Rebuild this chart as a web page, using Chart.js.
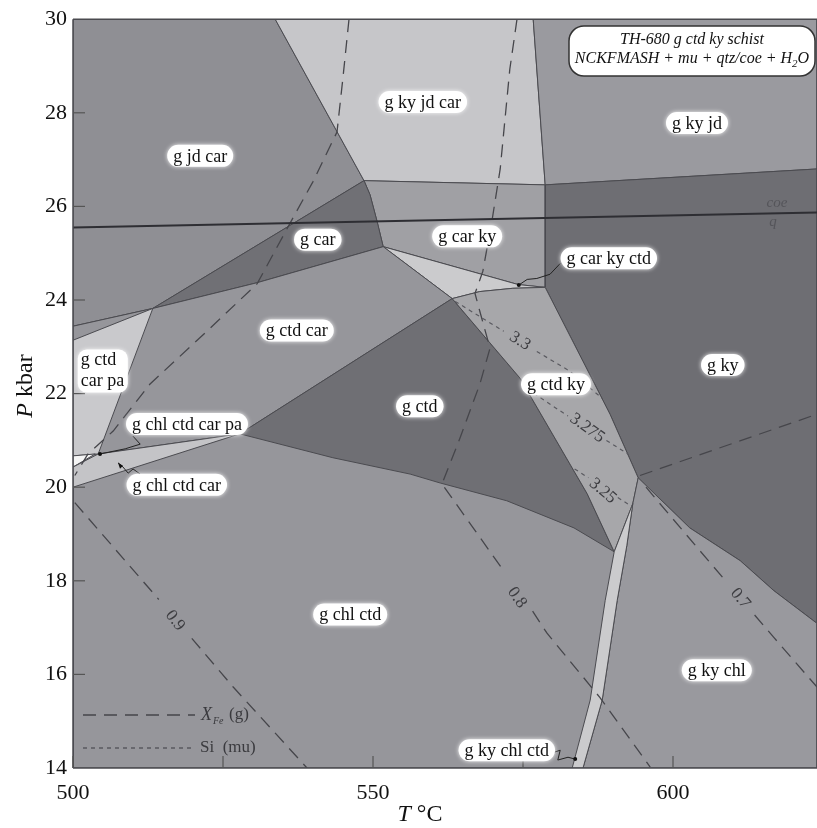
<!DOCTYPE html>
<html>
<head>
<meta charset="utf-8">
<script src="https://cdn.jsdelivr.net/npm/chart.js@4.4.1/dist/chart.umd.min.js"></script>
<style>
html,body{margin:0;padding:0;background:#fff}
</style>
</head>
<body>
<canvas id="chart" width="817" height="828"></canvas>
<script>
// axes
const xTickVals = [500, 525, 550, 575, 600]
const yTickVals = [16, 18, 20, 22, 24, 26, 28]

// fields, points are [T degC, P kbar]
const gChlCtd = [[500,14],[624,14],[624,30],[500,30]]
const gJdCar = [[500,30],[533.7,30],[548.5,26.55],[513.3,23.82],[500,23.44]]
const gKyJdCar = [[533.7,30],[576.7,30],[578.7,26.46],[548.5,26.55]]
const gKyJd = [[576.7,30],[624,30],[624,26.8],[578.7,26.46]]
const gKy = [[578.7,26.46],[624,26.8],[624,17.09],[616.8,17.79],[611.2,18.43],[602.8,19.13],[594.2,20.2],[589.5,21.56],[578.7,24.27]]
const gCarKy = [[548.5,26.55],[578.7,26.46],[578.7,24.27],[574.2,24.33],[551.7,25.14],[550.7,25.67],[549.5,26.25]]
const gCar = [[513.3,23.82],[548.5,26.55],[549.5,26.25],[550.7,25.67],[551.7,25.14],[530.7,24.37]]
const gCarKyCtd = [[551.7,25.14],[574.2,24.33],[578.7,24.27],[573.3,24.25],[567.8,24.18],[563.2,24.03]]
const gCtdCar = [[500,23.44],[513.3,23.82],[530.7,24.37],[551.7,25.14],[563.2,24.03],[527.8,21.14],[504.2,20.71],[500,20.67]]
const gCtd = [[563.2,24.03],[527.8,21.14],[543.3,20.63],[556.2,20.28],[561.2,20.09],[572.3,19.71],[583.5,19.13],[590.2,18.62],[585.7,19.86],[574.5,22.33]]
const gCtdKy = [[563.2,24.03],[567.8,24.18],[573.3,24.25],[578.7,24.27],[589.5,21.56],[594.2,20.2],[593.3,19.65],[590.2,18.62],[585.7,19.86],[574.5,22.33]]
const gKyChl = [[594.2,20.2],[602.8,19.13],[611.2,18.43],[616.8,17.79],[624,17.09],[624,14],[585,14],[588.2,15.45],[590.7,17.58],[592.3,18.75],[593.3,19.65]]
const gKyChlCtd = [[593.3,19.65],[592.3,18.75],[590.7,17.58],[588.2,15.45],[585,14],[583.2,14],[586.2,15.45],[588.7,17.58],[590.2,18.62]]
const gCtdCarPa = [[500,23.14],[513.3,23.82],[504.2,20.71],[500,20.67]]
const whiteField = [[500,20.67],[503.7,20.71],[500,20.43]]
const gChlCtdCar = [[500,20.43],[504.2,20.71],[527.8,21.14],[500,20.0]]

// coe = q reaction
const coeLine = [[500,25.55],[624,25.87]]

// X_Fe(g) isopleths, null = gap for the label
const xFeTop = [[546,30],[545,28.76],[544,27.59],[540,26.53],[535.7,25.53],[530.7,24.35],[522.3,23.33],[512.8,22.2],[506.7,21.2],[502.5,20.71],[500.3,20.25]]
const xFe08 = [[574,30],[572.8,28.93],[571.2,26.8],[569.8,25.67],[568.3,24.61],[567,24.14],[567.8,23.76],[569.5,22.97],[567.8,22.2],[564.5,21.05],[561.5,20.07],[571.3,18.3],null,[576.6,17.35],[579,16.88],[587.8,15.51],[596.2,14.02]]
const xFe09 = [[500.3,19.67],[514.3,17.6],null,[519.8,16.77],[526.7,15.73],[539,14]]
const xFe07 = [[595.5,20.0],[604.5,18.64],[608.7,18.01],null,[613.6,17.27],[616.8,16.79],[624,15.73]]
const xFeRight = [[594.5,20.25],[624,21.56]]

// Si (mu) isopleths
const si330 = [[563.7,23.97],[571.8,23.33],null,[577.3,22.9],[582.8,22.48],[588.2,21.9]]
const si3275 = [[575.7,22.1],[581.2,21.63],[582.5,21.52],null,[588.9,21.0],[592.6,20.7]]
const si325 = [[583.6,20.39],[585.9,20.2],null,[590.8,19.78],[593.2,19.58]]

// leader lines from labels
const leadCarKyCtd = [[581.2,24.78],[579.5,24.55],[577.3,24.46],[575.7,24.44],[574.3,24.32]]
const leadChlCtdCarPa = [[510,21.09],[511.2,20.92],[508.7,20.82],[504.5,20.71]]
const leadChlCtdCar = [[511.2,20.28],[510,20.39],[509.2,20.3],[508.2,20.45],[507.5,20.52]]
const leadKyChlCtd = [[579.8,14.32],[581.2,14.38],[580.8,14.17],[582.5,14.23],[583.7,14.19]]

// field names and where they sit
const fieldNames = ['g jd car','g ky jd car','g ky jd','g car','g car ky','g car ky ctd','g ctd car','g ctd ky','g ky','g ctd','g chl ctd car pa','g chl ctd car','g chl ctd','g ky chl','g ky chl ctd']
const fieldT = [521.2, 558.3, 604, 540.8, 565.7, 589.3, 537.3, 580.5, 608.3, 557.8, 519, 517.3, 546.2, 607.3, 572.3]
const fieldP = [27.08, 28.23, 27.78, 25.29, 25.36, 24.89, 23.35, 22.2, 22.61, 21.73, 21.35, 20.05, 17.28, 16.09, 14.38]

// isopleth values
const isoNames = ['0.9', '0.8', '0.7', '3.3', '3.275', '3.25']
const isoT = [517, 574, 611.2, 574.5, 585.7, 588.3]
const isoP = [17.15, 17.64, 17.62, 23.12, 21.26, 19.92]
const isoAngle = [52, 55, 50, 32, 36, 40]

const edge = '#4b4b50'
function toXY(pts){ return pts.map(p=>({x:p[0], y:p[1]})) }

let datasets = []
let ord = 100
function field(pts, color){
    datasets.push({
        data: toXY(pts.concat([pts[0]])),
        showLine: true, fill: 'shape', backgroundColor: color,
        borderColor: edge, borderWidth: 1, pointRadius: 0, order: ord--
    })
}
function curve(pts, color, width, dash){
    let part = []
    pts.concat([null]).forEach(p=>{
        if (p === null){
            if (part.length > 1){
                datasets.push({data: toXY(part), showLine: true, fill: false, borderColor: color,
                    borderWidth: width, borderDash: dash, pointRadius: 0, order: 10})
            }
            part = []
        } else part.push(p)
    })
}

field(gChlCtd, '#96969b')
field(gJdCar, '#8f8f94')
field(gKyJdCar, '#c6c6c9')
field(gKyJd, '#9a9a9f')
field(gKy, '#6e6e73')
field(gCarKy, '#a0a0a4')
field(gCar, '#707075')
field(gCarKyCtd, '#cbcbcd')
field(gCtdCar, '#96969b')
field(gCtd, '#6f6f74')
field(gCtdKy, '#a7a7aa')
field(gKyChl, '#99999e')
field(gKyChlCtd, '#cbcbcd')
field(gCtdCarPa, '#c9c9cc')
field(whiteField, '#f5f5f5')
field(gChlCtdCar, '#c4c4c7')

curve(coeLine, '#2e2e33', 2, [])
curve(xFeTop, '#46464b', 1.3, [13, 8])
curve(xFe08, '#46464b', 1.3, [13, 8])
curve(xFe09, '#46464b', 1.3, [13, 8])
curve(xFe07, '#46464b', 1.3, [13, 8])
curve(xFeRight, '#46464b', 1.3, [13, 8])
curve(si330, '#5a5a60', 1.2, [4, 4])
curve(si3275, '#5a5a60', 1.2, [4, 4])
curve(si325, '#5a5a60', 1.2, [4, 4])
curve(leadCarKyCtd, '#222', 1, [])
curve(leadChlCtdCarPa, '#222', 1, [])
curve(leadChlCtdCar, '#222', 1, [])
curve(leadKyChlCtd, '#222', 1, [])

const serif = '"Liberation Serif", "Times New Roman", serif'

function roundBox(ctx, x, y, w, h, r){
    ctx.beginPath()
    ctx.moveTo(x+r, y)
    ctx.lineTo(x+w-r, y); ctx.arcTo(x+w, y, x+w, y+r, r)
    ctx.lineTo(x+w, y+h-r); ctx.arcTo(x+w, y+h, x+w-r, y+h, r)
    ctx.lineTo(x+r, y+h); ctx.arcTo(x, y+h, x, y+h-r, r)
    ctx.lineTo(x, y+r); ctx.arcTo(x, y, x+r, y, r)
    ctx.closePath()
}

function pill(ctx, text, cx, cy){
    ctx.font = '18px ' + serif
    const w = ctx.measureText(text).width + 12, h = 22
    ctx.save()
    ctx.shadowColor = 'rgba(255,255,255,0.9)'
    ctx.shadowBlur = 4
    ctx.fillStyle = '#fff'
    roundBox(ctx, cx-w/2, cy-h/2, w, h, h/2)
    ctx.fill()
    ctx.restore()
    ctx.fillStyle = '#111'
    ctx.textAlign = 'center'
    ctx.textBaseline = 'middle'
    ctx.fillText(text, cx, cy+1)
}

const decor = {
    id: 'decor',
    afterDatasetsDraw(chart){
        const {ctx, chartArea: a, scales: {x, y}} = chart
        const px = t => x.getPixelForValue(t)
        const py = p => y.getPixelForValue(p)
        ctx.save()
        // frame
        ctx.strokeStyle = '#4a4a4f'
        ctx.lineWidth = 1.5
        ctx.beginPath()
        ctx.moveTo(a.left, a.top); ctx.lineTo(a.right, a.top)
        ctx.moveTo(a.left, a.bottom); ctx.lineTo(a.right, a.bottom)
        ctx.moveTo(a.left, a.top); ctx.lineTo(a.left, a.bottom)
        ctx.stroke()
        // inward ticks
        ctx.lineWidth = 1.2
        ctx.strokeStyle = '#555'
        yTickVals.forEach(v=>{
            ctx.beginPath(); ctx.moveTo(a.left, py(v)); ctx.lineTo(a.left+12, py(v)); ctx.stroke()
        })
        xTickVals.forEach(v=>{
            ctx.beginPath(); ctx.moveTo(px(v), a.bottom); ctx.lineTo(px(v), a.bottom-12); ctx.stroke()
        })

        // dots / arrow at leader ends
        ctx.fillStyle = '#111'
        ;[leadCarKyCtd, leadChlCtdCarPa, leadKyChlCtd].forEach(l=>{
            const e = l[l.length-1]
            ctx.beginPath(); ctx.arc(px(e[0]), py(e[1]), 2, 0, Math.PI*2); ctx.fill()
        })
        const ah = leadChlCtdCar[leadChlCtdCar.length-1]
        ctx.beginPath()
        ctx.moveTo(px(ah[0]), py(ah[1]))
        ctx.lineTo(px(ah[0])+2, py(ah[1])+6)
        ctx.lineTo(px(ah[0])+5, py(ah[1])+3)
        ctx.closePath(); ctx.fill()

        // isopleth numbers
        ctx.fillStyle = '#3c3c40'
        ctx.font = '17px ' + serif
        ctx.textAlign = 'center'
        ctx.textBaseline = 'middle'
        isoNames.forEach((s, i)=>{
            ctx.save()
            ctx.translate(px(isoT[i]), py(isoP[i]))
            ctx.rotate(isoAngle[i]*Math.PI/180)
            ctx.fillText(s, 0, 0)
            ctx.restore()
        })

        // coe / q
        ctx.font = 'italic 15px ' + serif
        ctx.fillStyle = '#55555a'
        ctx.fillText('coe', 777, py(25.87)-9)
        ctx.fillText('q', 773, py(25.87)+10)

        // field labels
        fieldNames.forEach((s, i)=> pill(ctx, s, px(fieldT[i]), py(fieldP[i])))
        // two-line label
        ctx.save()
        ctx.shadowColor = 'rgba(255,255,255,0.9)'
        ctx.shadowBlur = 4
        ctx.fillStyle = '#fff'
        const bx = px(500.8), by = py(22.94)
        roundBox(ctx, bx, by, 50, 43, 9)
        ctx.fill()
        ctx.restore()
        ctx.fillStyle = '#111'
        ctx.font = '18px ' + serif
        ctx.textAlign = 'left'
        ctx.fillText('g ctd', bx+3, by+11)
        ctx.fillText('car pa', bx+3, by+32)

        // title box
        ctx.fillStyle = '#fff'
        ctx.strokeStyle = '#333'
        ctx.lineWidth = 1.5
        roundBox(ctx, 569, 26, 246, 50, 15)
        ctx.fill(); ctx.stroke()
        ctx.fillStyle = '#111'
        ctx.font = 'italic 16px ' + serif
        ctx.textAlign = 'center'
        ctx.fillText('TH-680 g ctd ky schist', 692, 40)
        const l2a = 'NCKFMASH + mu + qtz/coe + H', l2b = '2', l2c = 'O'
        const wa = ctx.measureText(l2a).width, wc = ctx.measureText(l2c).width
        ctx.font = 'italic 11px ' + serif
        const wb = ctx.measureText(l2b).width
        let sx = 692 - (wa + wb + wc)/2
        ctx.textAlign = 'left'
        ctx.font = 'italic 16px ' + serif
        ctx.fillText(l2a, sx, 59)
        ctx.font = 'italic 11px ' + serif
        ctx.fillText(l2b, sx + wa, 64)
        ctx.font = 'italic 16px ' + serif
        ctx.fillText(l2c, sx + wa + wb, 59)

        // legend
        ctx.strokeStyle = '#46464b'
        ctx.lineWidth = 1.3
        ctx.setLineDash([13, 8])
        ctx.beginPath(); ctx.moveTo(83, 715); ctx.lineTo(195, 715); ctx.stroke()
        ctx.strokeStyle = '#5a5a60'
        ctx.setLineDash([4, 4])
        ctx.beginPath(); ctx.moveTo(83, 748); ctx.lineTo(195, 748); ctx.stroke()
        ctx.setLineDash([])
        ctx.fillStyle = '#3a3a3e'
        ctx.font = 'italic 18px ' + serif
        ctx.fillText('X', 201, 715)
        ctx.font = 'italic 10px ' + serif
        ctx.fillText('Fe', 213, 721)
        ctx.font = '17px ' + serif
        ctx.fillText('(g)', 229, 715)
        ctx.fillText('Si  (mu)', 200, 748)

        // axis titles
        ctx.fillStyle = '#111'
        ctx.font = 'italic 24px ' + serif
        const wT = ctx.measureText('T').width
        ctx.font = '24px ' + serif
        const wC = ctx.measureText(' °C').width
        let tx = 420 - (wT + wC)/2
        ctx.font = 'italic 24px ' + serif
        ctx.fillText('T', tx, 815)
        ctx.font = '24px ' + serif
        ctx.fillText(' °C', tx + wT, 815)

        ctx.save()
        ctx.translate(26, 386)
        ctx.rotate(-Math.PI/2)
        ctx.font = 'italic 24px ' + serif
        const wP = ctx.measureText('P').width
        ctx.font = '24px ' + serif
        const wK = ctx.measureText(' kbar').width
        let ty = -(wP + wK)/2
        ctx.font = 'italic 24px ' + serif
        ctx.fillText('P', ty, 0)
        ctx.font = '24px ' + serif
        ctx.fillText(' kbar', ty + wP, 0)
        ctx.restore()

        ctx.restore()
    }
}

new Chart(document.getElementById('chart'), {
    type: 'scatter',
    data: {datasets: datasets},
    options: {
        responsive: false,
        animation: false,
        events: [],
        layout: {padding: {top: 17, right: 0, left: 0, bottom: 0}},
        plugins: {legend: {display: false}, tooltip: {enabled: false}},
        scales: {
            x: {
                type: 'linear', min: 500, max: 624,
                afterFit: s => { s.height = 60; s.paddingRight = 0; s.paddingLeft = 0 },
                grid: {display: false, drawTicks: false},
                border: {display: false},
                ticks: {
                    stepSize: 25, autoSkip: false, maxRotation: 0, padding: 12, color: '#111',
                    font: {family: serif, size: 22},
                    callback: v => (v % 50 === 0 ? v : '')
                }
            },
            y: {
                type: 'linear', min: 14, max: 30,
                afterFit: s => { s.width = 73 },
                grid: {display: false, drawTicks: false},
                border: {display: false},
                ticks: {stepSize: 2, padding: 6, color: '#111', font: {family: serif, size: 22}}
            }
        }
    },
    plugins: [decor]
})
</script>
</body>
</html>
